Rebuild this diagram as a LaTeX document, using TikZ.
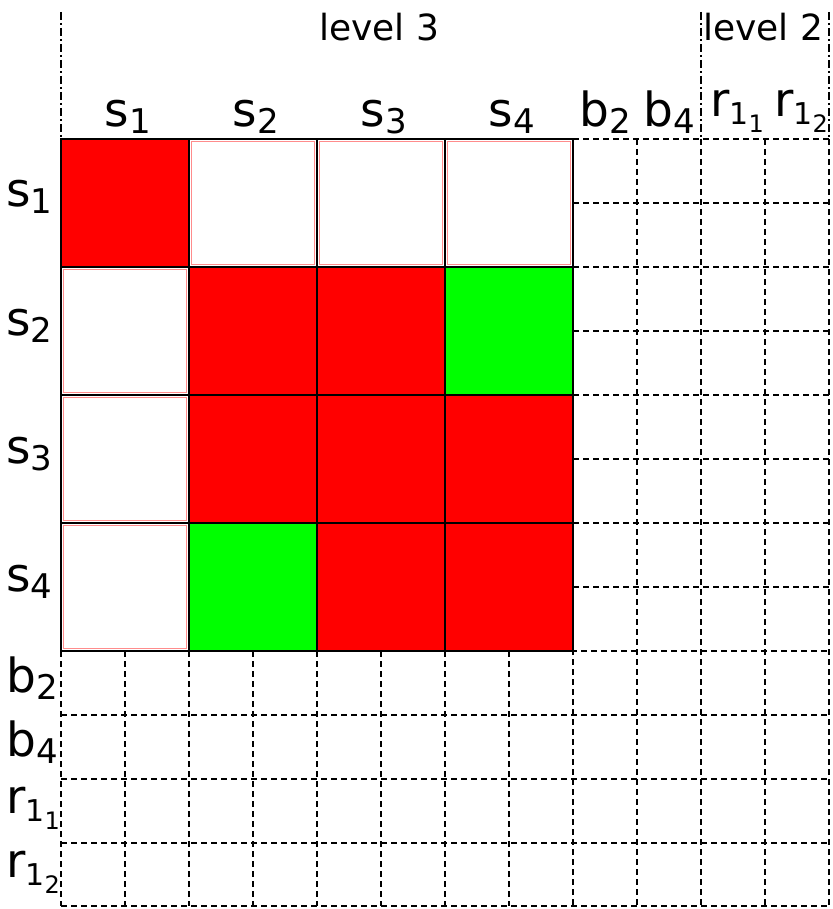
\documentclass[tikz,border=0pt]{standalone}
\usepackage{fontspec}
\setmainfont{DejaVu Sans}
\definecolor{cellred}{RGB}{255,0,0}
\definecolor{cellgreen}{RGB}{0,255,0}
% 下标：s/b 用单层，r 用两层
\newcommand{\labsub}[1]{\raisebox{-7pt}{\fontsize{34}{40}\selectfont #1}}
\newcommand{\labsubsub}[2]{\raisebox{-8pt}{\fontsize{30}{36}\selectfont #1\raisebox{-8pt}{\fontsize{24}{29}\selectfont #2}}}

\begin{document}
\begin{tikzpicture}[x=1pt, y=-1pt, line width=2.5pt, line cap=butt,
  gridline/.style={line width=2.5pt, dash pattern=on 6pt off 4pt},
  levelsep/.style={line width=2.5pt, dash pattern=on 8pt off 3pt on 2pt off 3pt},
  hot/.style={fill=cellred, draw=black, line width=2.5pt},
  warm/.style={fill=cellgreen, draw=black, line width=2.5pt},
  cold/.style={fill=white, draw=black, line width=2.5pt},
  coldrim/.style={draw=red!45, line width=1.0pt},
  lbl/.style={inner sep=0pt, font=\fontsize{47}{56}\selectfont},
  lvl/.style={inner sep=0pt, anchor=base, font=\fontsize{36}{43}\selectfont}]

  %% ════ 虚线网格（64 一格）════
  \draw[gridline] (573,139) -- (829,139);
  \draw[gridline] (573,203) -- (829,203);
  \draw[gridline] (573,267) -- (829,267);
  \draw[gridline] (573,331) -- (829,331);
  \draw[gridline] (573,395) -- (829,395);
  \draw[gridline] (573,459) -- (829,459);
  \draw[gridline] (573,523) -- (829,523);
  \draw[gridline] (573,587) -- (829,587);
  \draw[gridline] (61,651) -- (829,651);
  \draw[gridline] (61,715) -- (829,715);
  \draw[gridline] (61,779) -- (829,779);
  \draw[gridline] (61,843) -- (829,843);
  \draw[gridline] (61,906) -- (829,906);
  \draw[gridline] (61,651) -- (61,906);
  \draw[gridline] (125,651) -- (125,906);
  \draw[gridline] (189,651) -- (189,906);
  \draw[gridline] (253,651) -- (253,906);
  \draw[gridline] (317,651) -- (317,906);
  \draw[gridline] (381,651) -- (381,906);
  \draw[gridline] (445,651) -- (445,906);
  \draw[gridline] (509,651) -- (509,906);
  \draw[gridline] (573,139) -- (573,906);
  \draw[gridline] (637,139) -- (637,906);
  \draw[gridline] (701,139) -- (701,906);
  \draw[gridline] (765,139) -- (765,906);
  \draw[gridline] (829,139) -- (829,906);

  %% ════ 层级分隔（点划线）════
  \draw[levelsep] (61,12) -- (61,139);
  \draw[levelsep] (701,12) -- (701,139);
  \draw[levelsep] (829,12) -- (829,139);

  %% ════ 4x4 大格 ════
  % 第 1 行 s1
  \draw[hot]  (61,139) rectangle (189,267);
  \draw[cold] (189,139) rectangle (317,267);
  \draw[cold] (317,139) rectangle (445,267);
  \draw[cold] (445,139) rectangle (573,267);
  % 第 2 行 s2
  \draw[cold] (61,267) rectangle (189,395);
  \draw[hot]  (189,267) rectangle (317,395);
  \draw[hot]  (317,267) rectangle (445,395);
  \draw[warm] (445,267) rectangle (573,395);
  % 第 3 行 s3
  \draw[cold] (61,395) rectangle (189,523);
  \draw[hot]  (189,395) rectangle (317,523);
  \draw[hot]  (317,395) rectangle (445,523);
  \draw[hot]  (445,395) rectangle (573,523);
  % 第 4 行 s4
  \draw[cold] (61,523) rectangle (189,651);
  \draw[warm] (189,523) rectangle (317,651);
  \draw[hot]  (317,523) rectangle (445,651);
  \draw[hot]  (445,523) rectangle (573,651);

  % 白格里那圈淡红边
  \draw[coldrim] (191.5,141.5) rectangle (314.5,264.5);
  \draw[coldrim] (319.5,141.5) rectangle (442.5,264.5);
  \draw[coldrim] (447.5,141.5) rectangle (570.5,264.5);
  \draw[coldrim] (63.5,269.5) rectangle (186.5,392.5);
  \draw[coldrim] (63.5,397.5) rectangle (186.5,520.5);
  \draw[coldrim] (63.5,525.5) rectangle (186.5,648.5);

  %% ════ 标签 ════
  \node[lvl] (lvlthree) at (379,41) {level 3};
  \node[lvl] (lvltwo)   at (763,41) {level 2};

  % 列标签
  \node[lbl,anchor=base] (cs1) at (128,127) {s\labsub{1}};
  \node[lbl,anchor=base] (cs2) at (256,127) {s\labsub{2}};
  \node[lbl,anchor=base] (cs3) at (384,127) {s\labsub{3}};
  \node[lbl,anchor=base] (cs4) at (512,127) {s\labsub{4}};
  \node[lbl,anchor=base] (cb2) at (605,127) {b\labsub{2}};
  \node[lbl,anchor=base] (cb4) at (669,127) {b\labsub{4}};
  \node[lbl,anchor=base] (cr11) at (737,117) {r\labsubsub{1}{1}};
  \node[lbl,anchor=base] (cr12) at (801,117) {r\labsubsub{1}{2}};

  % 行标签
  \node[lbl,anchor=base west] (rs1) at (5,207) {s\labsub{1}};
  \node[lbl,anchor=base west] (rs2) at (5,335) {s\labsub{2}};
  \node[lbl,anchor=base west] (rs3) at (5,463) {s\labsub{3}};
  \node[lbl,anchor=base west] (rs4) at (5,591) {s\labsub{4}};
  \node[lbl,anchor=base west] (rb2) at (5,692) {b\labsub{2}};
  \node[lbl,anchor=base west] (rb4) at (5,756) {b\labsub{4}};
  \node[lbl,anchor=base west] (rr11) at (5,813) {r\labsubsub{1}{1}};
  \node[lbl,anchor=base west] (rr12) at (5,877) {r\labsubsub{1}{2}};

  % 钉死画布
  \pgfresetboundingbox
  \path[use as bounding box] (0,0) rectangle (832,909);
\end{tikzpicture}
\end{document}
